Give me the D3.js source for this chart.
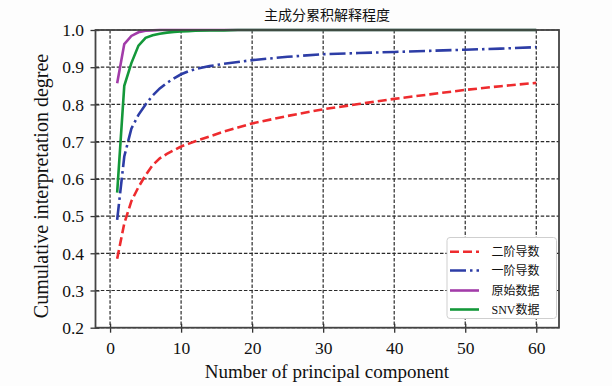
<!DOCTYPE html>
<html>
<head>
<meta charset="utf-8">
<script src="https://cdnjs.cloudflare.com/ajax/libs/d3/7.8.5/d3.min.js"></script>
<style>
  body { margin: 0; background: #fff; }
  text { font-family: "Liberation Serif", "Noto Sans CJK SC", serif; fill: #111; }
</style>
</head>
<body>
<div id="chart"></div>
<script>
// values
var components = [1, 2, 3, 4, 5, 6, 7, 8, 9, 10, 11, 12, 14, 16, 18, 20, 25, 30, 35, 40, 45, 50, 55, 60]
var secondDeriv = [0.385, 0.48, 0.54, 0.578, 0.61, 0.637, 0.655, 0.667, 0.677, 0.687, 0.694, 0.701,
  0.714, 0.727, 0.738, 0.749, 0.769, 0.787, 0.801, 0.815, 0.827, 0.839, 0.849, 0.858]
var firstDeriv = [0.49, 0.66, 0.735, 0.772, 0.80, 0.824, 0.843, 0.858, 0.870, 0.881, 0.889, 0.895,
  0.903, 0.909, 0.914, 0.919, 0.928, 0.935, 0.938, 0.941, 0.944, 0.947, 0.950, 0.954]
var rawData = [0.857, 0.962, 0.984, 0.994, 0.998, 0.999, 1, 1, 1, 1, 1, 1,
  1, 1, 1, 1, 1, 1, 1, 1, 1, 1, 1, 1]
var snvData = [0.563, 0.850, 0.911, 0.958, 0.979, 0.986, 0.990, 0.993, 0.995, 0.996, 0.997, 0.998,
  0.999, 0.999, 1, 1, 1, 1, 1, 1, 1, 1, 1, 1]
var seriesNames = ['二阶导数', '一阶导数', '原始数据', 'SNV数据']
var xTicks = [0, 10, 20, 30, 40, 50, 60]
var yTicks = [0.2, 0.3, 0.4, 0.5, 0.6, 0.7, 0.8, 0.9, 1.0]

var w = 612
var h = 386
var pl = 95.5, pr = 559, pt = 30, pb = 327.7   // plot box edges

var svg = d3.select('#chart').append('svg')
  .attr('width', w)
  .attr('height', h)

var x = d3.scaleLinear().domain([-2.05, 63.2]).range([pl, pr])
var y = d3.scaleLinear().domain([0.2, 1.0]).range([pb, pt])

var styles = [
  { color: '#ee2b2e', dash: '9,4' },
  { color: '#2d3da6', dash: '16,4,2.5,4' },
  { color: '#a23ca9', dash: null },
  { color: '#14983a', dash: null }
]
var values = [secondDeriv, firstDeriv, rawData, snvData]

svg.append('rect')
  .attr('x', 0).attr('y', 0).attr('width', w).attr('height', h)
  .attr('fill', '#fdfdfd')
svg.append('rect')
  .attr('x', pl).attr('y', pt).attr('width', pr - pl).attr('height', pb - pt)
  .attr('fill', '#fff')

// grid
svg.append('g').selectAll('line').data(xTicks).enter().append('line')
  .attr('x1', function (d) { return x(d) }).attr('x2', function (d) { return x(d) })
  .attr('y1', pt).attr('y2', pb)
  .attr('stroke', '#2a2a2a').attr('stroke-width', 1.2).attr('stroke-dasharray', '3.5,1.8')
svg.append('g').selectAll('line').data(yTicks).enter().append('line')
  .attr('x1', pl).attr('x2', pr)
  .attr('y1', function (d) { return y(d) }).attr('y2', function (d) { return y(d) })
  .attr('stroke', '#2a2a2a').attr('stroke-width', 1.2).attr('stroke-dasharray', '3.5,1.8')

// axes
var xAxis = svg.append('g')
  .attr('transform', 'translate(0,' + pb + ')')
  .call(d3.axisBottom(x).tickValues(xTicks).tickFormat(d3.format('d')).tickSize(5))
var yAxis = svg.append('g')
  .attr('transform', 'translate(' + pl + ',0)')
  .call(d3.axisLeft(y).tickValues(yTicks).tickFormat(d3.format('.1f')).tickSize(5))

xAxis.select('.domain').remove()
yAxis.select('.domain').remove()
xAxis.selectAll('.tick line').attr('y1', -4).attr('y2', 5).attr('stroke', '#333').attr('stroke-width', 1.3)
yAxis.selectAll('.tick line').attr('x1', 4).attr('x2', -5).attr('stroke', '#333').attr('stroke-width', 1.3)
xAxis.selectAll('.tick text').attr('y', 26.3).attr('dy', 0)
  .style('font-size', '17.5px').style('font-family', '"Liberation Serif", serif').attr('fill', '#111')
yAxis.selectAll('.tick text').attr('x', -11.5).attr('dy', '0.33em')
  .style('font-size', '17.5px').style('font-family', '"Liberation Serif", serif').attr('fill', '#111')

// curves
var line = d3.line()
  .x(function (d) { return x(d[0]) })
  .y(function (d) { return y(d[1]) })

values.forEach(function (vals, i) {
  var pts = components.map(function (c, j) { return [c, vals[j]] })
  svg.append('path')
    .datum(pts)
    .attr('d', line)
    .attr('fill', 'none')
    .attr('stroke', styles[i].color)
    .attr('stroke-width', 2.6)
    .attr('stroke-dasharray', styles[i].dash)
})

// frame
svg.append('rect')
  .attr('x', pl).attr('y', pt).attr('width', pr - pl).attr('height', pb - pt)
  .attr('fill', 'none').attr('stroke', '#444').attr('stroke-width', 1.8)

// legend
var lg = svg.append('g')
lg.append('rect')
  .attr('x', 447).attr('y', 237.5).attr('width', 109.5).attr('height', 81)
  .attr('rx', 3).attr('fill', '#fff').attr('stroke', '#cfcfcf').attr('stroke-width', 1)
var rowY = [251.7, 270.5, 290.5, 309.5]
seriesNames.forEach(function (name, i) {
  lg.append('line')
    .attr('x1', 450).attr('x2', 479)
    .attr('y1', rowY[i]).attr('y2', rowY[i])
    .attr('stroke', styles[i].color)
    .attr('stroke-width', 2.6)
    .attr('stroke-dasharray', styles[i].dash)
  lg.append('text')
    .attr('x', 491.5).attr('y', rowY[i]).attr('dy', '0.36em')
    .style('font-size', '12px')
    .text(name)
})

// labels
svg.append('text')
  .attr('x', 327).attr('y', 20)
  .attr('text-anchor', 'middle')
  .style('font-size', '14px')
  .text('主成分累积解释程度')
svg.append('text')
  .attr('x', 327).attr('y', 378)
  .attr('text-anchor', 'middle')
  .style('font-size', '19px')
  .text('Number of principal component')
svg.append('text')
  .attr('transform', 'translate(48,186) rotate(-90)')
  .attr('text-anchor', 'middle')
  .style('font-size', '20px')
  .text('Cumulative interpretation degree')
</script>
</body>
</html>
